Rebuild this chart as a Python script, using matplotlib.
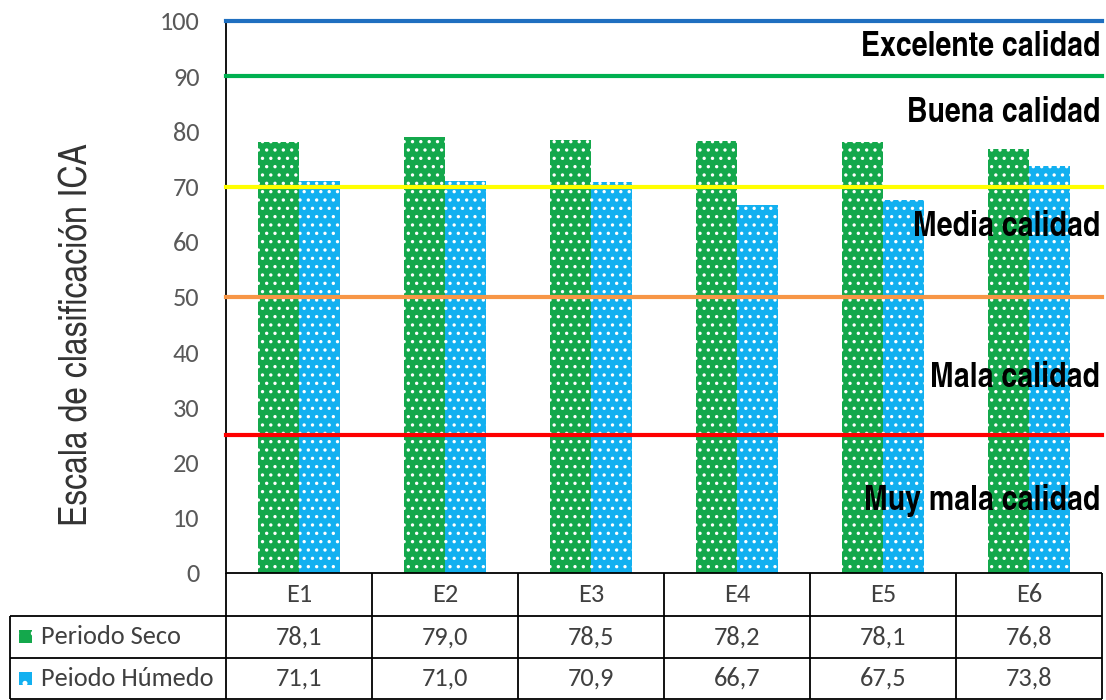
import matplotlib.pyplot as plt
import numpy as np
from matplotlib.patches import Rectangle
from matplotlib.transforms import blended_transform_factory

plt.rcParams['hatch.color'] = 'white'
plt.rcParams['hatch.linewidth'] = 1.2

# data
estaciones = ['E1', 'E2', 'E3', 'E4', 'E5', 'E6']
seco = [78.1, 79.0, 78.5, 78.2, 78.1, 76.8]
humedo = [71.1, 71.0, 70.9, 66.7, 67.5, 73.8]
series_names = ['Periodo Seco', 'Peiodo Húmedo']

limites = [100, 90, 70, 50, 25]
limite_colors = ['#1f6fc0', '#00b050', '#ffff00', '#f79646', '#ff0000']
calidad = ['Excelente calidad', 'Buena calidad', 'Media calidad', 'Mala calidad', 'Muy mala calidad']
calidad_y = [95.3, 83.3, 62.7, 35.3, 13.2]

green = '#14a84c'
blue = '#12b0f0'
narrow = ['TeX Gyre Heros Cn', 'Roboto Condensed', 'DejaVu Sans']
body = ['Carlito', 'Lato', 'DejaVu Sans']

W, H = 1106, 700
fig = plt.figure(figsize=(W/100, H/100), dpi=100)
ax = fig.add_axes([226/W, 1 - 573/H, (1102-226)/W, (573-21)/H])

x = np.arange(len(estaciones))
bw = 0.28
ax.bar(x - bw/2, seco, bw, color=green, edgecolor='white', linewidth=0, hatch='..', zorder=2)
ax.bar(x + bw/2, humedo, bw, color=blue, edgecolor='white', linewidth=0, hatch='..', zorder=2)

for lim, col in zip(limites, limite_colors):
    ax.axhline(lim, color=col, lw=3, zorder=3, clip_on=False)

for txt, yy in zip(calidad, calidad_y):
    ax.text(0.998, yy, txt, transform=ax.get_yaxis_transform(), ha='right', va='center',
            fontsize=25, fontweight='bold', family=narrow, color='black', zorder=4)

ax.set_xlim(-0.5, len(estaciones) - 0.5)
ax.set_ylim(0, 100)
ax.set_yticks(np.arange(0, 101, 10))
ax.set_xticks([])
ax.tick_params(axis='y', length=0, pad=19, labelsize=19, labelcolor='#595959')
for lab in ax.get_yticklabels():
    lab.set_family(body)
for s in ['top', 'right', 'bottom']:
    ax.spines[s].set_visible(False)
ax.spines['left'].set_linewidth(1.3)
ax.set_ylabel('Escala de clasificación ICA', fontsize=28, family=narrow, color='#333333', va='center')
ax.yaxis.set_label_coords(-0.169, 0.431)

# data table under the chart, drawn in pixel rows of the figure
tab = fig.add_axes([0, 0, 1, (H-573)/H])
tab.set_xlim(0, W)
tab.set_ylim(H, 573)
tab.axis('off')
mix = blended_transform_factory(ax.transData, tab.transData)
rows = [573, 616, 658, 699]
edges = np.arange(len(estaciones) + 1) - 0.5
lk = dict(color='black', lw=1.3, clip_on=False)

tab.vlines(edges, rows[0], rows[-1], transform=mix, **lk)
tab.hlines(rows[0], edges[0], edges[-1], transform=mix, **lk)
for r in rows[1:]:
    tab.hlines(r, edges[0], edges[-1], transform=mix, **lk)
    tab.hlines(r, 10, 226, **lk)
tab.vlines(10, rows[1], rows[-1], **lk)

tk = dict(ha='center', va='center', fontsize=19, family=body, color='#404040')
for i, e in enumerate(estaciones):
    tab.text(x[i], (rows[0] + rows[1]) / 2, e, transform=mix, **tk)
    for j, vals in enumerate([seco, humedo]):
        tab.text(x[i], (rows[j+1] + rows[j+2]) / 2, f'{vals[i]:.1f}'.replace('.', ','),
                 transform=mix, **tk)

for j, (name, col) in enumerate(zip(series_names, [green, blue])):
    yc = (rows[j+1] + rows[j+2]) / 2
    tab.add_patch(Rectangle((19, yc - 6.5), 13, 13, facecolor=col, edgecolor='white',
                            linewidth=0, hatch='.', clip_on=False))
    tab.text(41, yc, name, ha='left', va='center', fontsize=19, family=body, color='#404040')

fig.savefig('out.png', dpi=100)
